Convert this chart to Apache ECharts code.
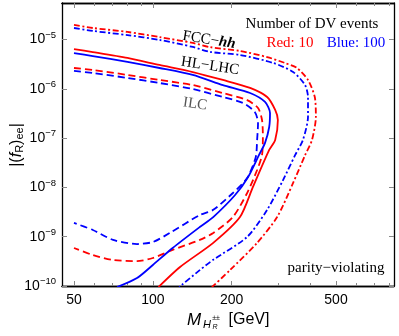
<!DOCTYPE html>
<html>
<head>
<meta charset="utf-8">
<script src="https://cdn.jsdelivr.net/npm/echarts@6/dist/echarts.min.js"></script>
<style>html,body{margin:0;padding:0;background:#fff;}#c{width:399px;height:336px;}</style>
</head>
<body>
<div id="c"></div>
<script>
// x tick labels (GeV) and y tick exponents
const xMajor = [50, 100, 200, 500];
const xMinor = [60, 70, 80, 90, 300, 400, 600, 700, 800];
const yExp = [-10, -9, -8, -7, -6, -5];

// curves: [M (GeV), |(f_R)_ee|]
const fccRed = [[50,1.97e-5],[59,1.71e-5],[80,1.42e-5],[106,1.12e-5],[142,8.5e-6],[165,7.0e-6],[215,5.85e-6],[273,4.4e-6],[319,3.34e-6],[355,2.64e-6],[391,1.51e-6],[415,6.8e-7],[419,2.7e-7],[405,9.2e-8],[381,4.5e-8],[343,1.23e-8],[298,2.5e-9],[250,7.5e-10],[197,2.1e-10],[168,9.5e-11]];
const fccBlue = [[50,1.71e-5],[59,1.49e-5],[80,1.23e-5],[106,9.8e-6],[142,7.05e-6],[165,5.6e-6],[215,4.85e-6],[288,3.34e-6],[343,2.19e-6],[381,1.19e-6],[391,6.8e-7],[391,2.7e-7],[374,9.2e-8],[349,4.5e-8],[314,1.41e-8],[273,3.5e-9],[229,9.9e-10],[170,3.4e-10],[151,2.1e-10],[126,9.5e-11]];
const hlRed = [[50,6.4e-6],[59,5.57e-6],[80,4.22e-6],[106,3.04e-6],[142,2.19e-6],[185,1.51e-6],[235,1.04e-6],[273,6.8e-7],[293,3.72e-7],[300,2.33e-7],[293,9.2e-8],[278,5.74e-8],[241,1.02e-8],[215,2.5e-9],[170,7.5e-10],[127,2.43e-10],[105,9.5e-11]];
const hlBlue = [[50,5.3e-6],[59,4.62e-6],[80,3.5e-6],[106,2.64e-6],[142,1.91e-6],[185,1.19e-6],[235,8.2e-7],[268,5.4e-7],[280,3.23e-7],[278,1.68e-7],[268,8.0e-8],[254,4.5e-8],[231,1.63e-8],[206,7.0e-9],[170,2.5e-9],[151,1.57e-9],[119,5.9e-10],[100,2.67e-10],[87,1.45e-10],[73,9.5e-11]];
const ilcRed = [[50,2.64e-6],[59,2.41e-6],[80,1.91e-6],[106,1.51e-6],[142,1.19e-6],[185,8.2e-7],[229,5.9e-7],[252,4.08e-7],[261,2.33e-7],[263,1.05e-7],[261,4.5e-8],[250,2.25e-8],[229,7.7e-9],[202,2.5e-9],[170,1.19e-9],[151,8.6e-10],[119,5.4e-10],[100,3.7e-10],[87,3.2e-10],[70.5,3.37e-10],[59,4.25e-10],[50,5.9e-10]];
const ilcBlue = [[50,2.3e-6],[59,2.09e-6],[80,1.66e-6],[106,1.31e-6],[142,9.9e-7],[185,6.8e-7],[221,5.15e-7],[245,3.38e-7],[252,2.02e-7],[250,9.2e-8],[247,4.1e-8],[229,1.55e-8],[202,7.7e-9],[170,3.5e-9],[151,2.75e-9],[116,1.19e-9],[100,7.8e-10],[87,7.1e-10],[70.5,8.6e-10],[59,1.37e-9],[50,1.9e-9]];

const L = Math.log10;
const toLog = arr => arr.map(p => [L(p[0]), L(p[1])]);

const RED = '#ff0000', BLUE = '#0000ff';
const DASH = [7, 4];
const DASHDOT = [6, 2.5, 2, 2.5];
const SERIF = 'Liberation Serif';
const SANS = 'Liberation Sans';

function mk(name, data, color, type) {
  return {
    name, type: 'line', data: toLog(data), showSymbol: false, smooth: 0.25,
    xAxisIndex: 0, yAxisIndex: 0, clip: true, silent: true,
    lineStyle: { color, width: 1.8, type }
  };
}

const xMin = 1.6532, xMax = 2.9204, yMin = -10, yMax = -4.26;
const majorX = xMajor.map(L), minorX = xMinor.map(L);

function xAx(pos, vals, len, labels) {
  return {
    type: 'value', position: pos, min: xMin, max: xMax, gridIndex: 0,
    splitLine: { show: false },
    axisLine: { show: true, onZero: false, lineStyle: { color: '#000', width: 1.3 } },
    axisTick: { show: true, inside: true, length: len, customValues: vals, lineStyle: { color: '#888', width: 1 } },
    axisLabel: labels ? {
      show: true, customValues: vals, margin: 7, color: '#000', fontFamily: SANS, fontSize: 14,
      formatter: v => String(Math.round(Math.pow(10, v)))
    } : { show: false }
  };
}
function yAx(pos, labels) {
  return {
    type: 'value', position: pos, min: yMin, max: yMax, gridIndex: 0,
    splitLine: { show: false },
    axisLine: { show: true, onZero: false, lineStyle: { color: '#000', width: 1.3 } },
    axisTick: { show: true, inside: true, length: 5, customValues: yExp, lineStyle: { color: '#888', width: 1 } },
    axisLabel: labels ? {
      show: true, customValues: yExp, margin: 6, color: '#000',
      formatter: v => '{b|10}{s|\u2212' + Math.abs(Math.round(v)) + '}',
      rich: {
        b: { fontFamily: SANS, fontSize: 14, color: '#000' },
        s: { fontFamily: SANS, fontSize: 9.5, color: '#000', padding: [0, 0, 9, 0] }
      }
    } : { show: false }
  };
}

const chart = echarts.init(document.getElementById('c'), null, { renderer: 'canvas' });
chart.setOption({
  animation: false,
  backgroundColor: '#fff',
  grid: { left: 62, right: 5, top: 3, bottom: 50, containLabel: false },
  xAxis: [xAx('bottom', majorX, 5, true), xAx('top', majorX, 5, false), xAx('bottom', minorX, 3, false), xAx('top', minorX, 3, false)],
  yAxis: [yAx('left', true), yAx('right', false)],
  series: [
    mk('ILC blue', ilcBlue, BLUE, DASH),
    mk('ILC red', ilcRed, RED, DASH),
    mk('HL blue', hlBlue, BLUE, 'solid'),
    mk('HL red', hlRed, RED, 'solid'),
    mk('FCC blue', fccBlue, BLUE, DASHDOT),
    mk('FCC red', fccRed, RED, DASHDOT)
  ],
  graphic: [
    { type: 'text', x: 209, y: 40, rotation: -0.16, silent: true,
      style: { text: '{n|FCC\u2212}{b|hh}', align: 'center', verticalAlign: 'middle',
        rich: { n: { fontFamily: SERIF, fontSize: 15, fill: '#000' }, b: { fontFamily: SERIF, fontSize: 15, fontStyle: 'italic', fontWeight: 'bold', fill: '#000' } } } },
    { type: 'text', x: 210, y: 66, rotation: -0.15, silent: true,
      style: { text: 'HL\u2212LHC', align: 'center', verticalAlign: 'middle', fontFamily: SERIF, fontSize: 15, fill: '#000' } },
    { type: 'text', x: 195, y: 104, rotation: -0.14, silent: true,
      style: { text: 'ILC', align: 'center', verticalAlign: 'middle', fontFamily: SERIF, fontSize: 15, fill: '#555' } },
    { type: 'text', x: 312, y: 24, silent: true,
      style: { text: 'Number of DV events', align: 'center', verticalAlign: 'middle', fontFamily: SERIF, fontSize: 15, fill: '#000' } },
    { type: 'text', x: 290, y: 43, silent: true,
      style: { text: 'Red: 10', align: 'center', verticalAlign: 'middle', fontFamily: SERIF, fontSize: 15, fill: RED } },
    { type: 'text', x: 356, y: 43, silent: true,
      style: { text: 'Blue: 100', align: 'center', verticalAlign: 'middle', fontFamily: SERIF, fontSize: 15, fill: BLUE } },
    { type: 'text', x: 336, y: 268, silent: true,
      style: { text: 'parity\u2212violating', align: 'center', verticalAlign: 'middle', fontFamily: SERIF, fontSize: 15, fill: '#000' } },
    // y axis title
    { type: 'text', x: 17, y: 145, rotation: Math.PI / 2, silent: true,
      style: { text: '{a||(}{i|f}{s|R}{a|)}{s|ee}{a||}', align: 'center', verticalAlign: 'middle',
        rich: {
          a: { fontFamily: SANS, fontSize: 16, fill: '#000' },
          i: { fontFamily: SANS, fontSize: 16, fontStyle: 'italic', fill: '#000' },
          s: { fontFamily: SANS, fontSize: 11, fill: '#000', padding: [6, 0, 0, 0] }
        } } },
    // x axis title
    { type: 'text', x: 194, y: 320, silent: true,
      style: { text: 'M', align: 'center', verticalAlign: 'middle', fontFamily: SANS, fontSize: 17, fontStyle: 'italic', fill: '#000' } },
    { type: 'text', x: 207, y: 325, silent: true,
      style: { text: 'H', align: 'center', verticalAlign: 'middle', fontFamily: SANS, fontSize: 11, fontStyle: 'italic', fill: '#000' } },
    { type: 'text', x: 216, y: 318, silent: true,
      style: { text: '\u00b1\u00b1', align: 'center', verticalAlign: 'middle', fontFamily: SANS, fontSize: 7, fill: '#000' } },
    { type: 'text', x: 215, y: 327, silent: true,
      style: { text: 'R', align: 'center', verticalAlign: 'middle', fontFamily: SANS, fontSize: 7, fontStyle: 'italic', fill: '#000' } },
    { type: 'text', x: 249, y: 320, silent: true,
      style: { text: '[GeV]', align: 'center', verticalAlign: 'middle', fontFamily: SANS, fontSize: 16, fill: '#000' } }
  ]
});
</script>
</body>
</html>
